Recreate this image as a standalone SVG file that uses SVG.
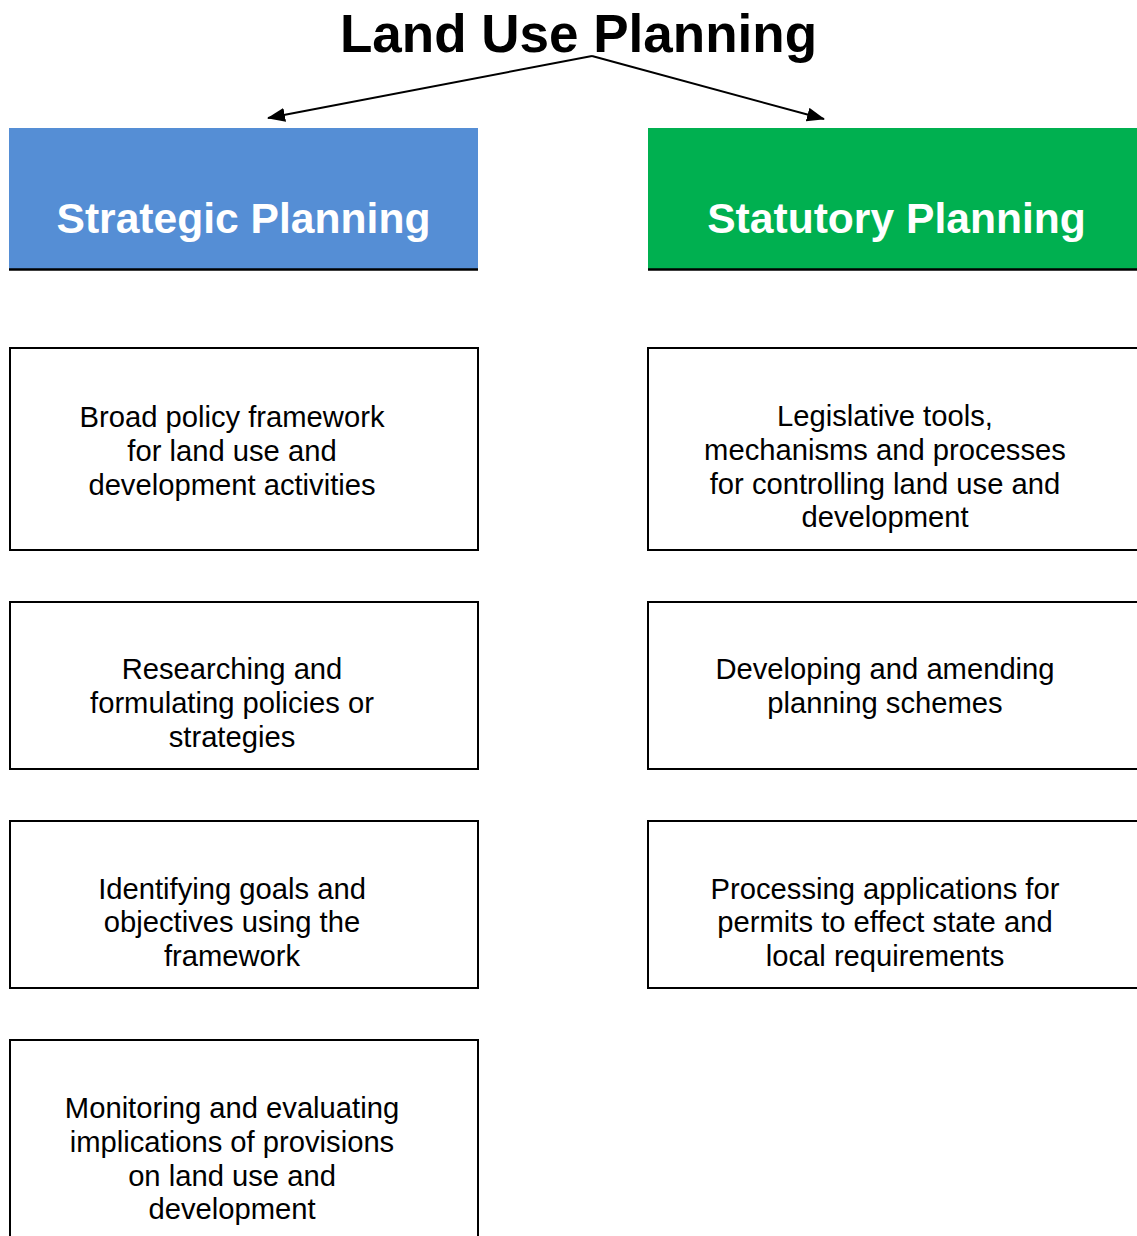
<svg xmlns="http://www.w3.org/2000/svg" width="1137" height="1236" viewBox="0 0 1137 1236">
<style>
.title{font-family:"Liberation Sans",Arial,sans-serif;font-weight:bold;font-size:53px;fill:#000;text-anchor:middle}
.head{font-family:"Liberation Sans",Arial,sans-serif;font-weight:bold;font-size:42.6px;fill:#fff;text-anchor:middle}
.body{font-family:"Liberation Sans",Arial,sans-serif;font-size:29.2px;fill:#000;text-anchor:middle}
.box{fill:#fff;stroke:#000;stroke-width:2}
.rule{stroke:#000;stroke-width:2.5}
.conn{stroke:#000;stroke-width:2;fill:none}
</style>
<defs>
<marker id="ah" viewBox="0 0 18 14" refX="17" refY="7" markerWidth="18" markerHeight="14" markerUnits="userSpaceOnUse" orient="auto">
<path d="M0,0 L18,7 L0,14 z" fill="#000"/>
</marker>
</defs>
<rect width="1137" height="1236" fill="#fff"/>
<g id="title"><text class="title" x="578.5" y="52">Land Use Planning</text></g>
<g id="connectors">
<line class="conn" x1="592" y1="56" x2="268" y2="118" marker-end="url(#ah)"/>
<line class="conn" x1="592" y1="56" x2="824" y2="119" marker-end="url(#ah)"/>
</g>
<g id="strategic">
<rect x="9" y="128" width="469" height="141" fill="#558ed5"/>
<line class="rule" x1="9" y1="269.5" x2="478" y2="269.5"/>
<text class="head" x="243.5" y="233">Strategic Planning</text>
</g>
<g id="statutory">
<rect x="648" y="128" width="497" height="141" fill="#00b050"/>
<line class="rule" x1="648" y1="269.5" x2="1145" y2="269.5"/>
<text class="head" x="896.5" y="233">Statutory Planning</text>
</g>
<g id="s1">
<rect class="box" x="10" y="348" width="468" height="202"/>
<text class="body" x="232"><tspan x="232" y="427">Broad policy framework</tspan><tspan x="232" y="461">for land use and</tspan><tspan x="232" y="495">development activities</tspan></text>
</g>
<g id="s2">
<rect class="box" x="10" y="602" width="468" height="167"/>
<text class="body" x="232"><tspan x="232" y="679">Researching and</tspan><tspan x="232" y="713">formulating policies or</tspan><tspan x="232" y="747">strategies</tspan></text>
</g>
<g id="s3">
<rect class="box" x="10" y="821" width="468" height="167"/>
<text class="body" x="232"><tspan x="232" y="899">Identifying goals and</tspan><tspan x="232" y="932">objectives using the</tspan><tspan x="232" y="966">framework</tspan></text>
</g>
<g id="s4">
<rect class="box" x="10" y="1040" width="468" height="220"/>
<text class="body" x="232"><tspan x="232" y="1118">Monitoring and evaluating</tspan><tspan x="232" y="1152">implications of provisions</tspan><tspan x="232" y="1186">on land use and</tspan><tspan x="232" y="1219">development</tspan></text>
</g>
<g id="t1">
<rect class="box" x="648" y="348" width="500" height="202"/>
<text class="body" x="885"><tspan x="885" y="426">Legislative tools,</tspan><tspan x="885" y="460">mechanisms and processes</tspan><tspan x="885" y="494">for controlling land use and</tspan><tspan x="885" y="527">development</tspan></text>
</g>
<g id="t2">
<rect class="box" x="648" y="602" width="500" height="167"/>
<text class="body" x="885"><tspan x="885" y="679">Developing and amending</tspan><tspan x="885" y="713">planning schemes</tspan></text>
</g>
<g id="t3">
<rect class="box" x="648" y="821" width="500" height="167"/>
<text class="body" x="885"><tspan x="885" y="899">Processing applications for</tspan><tspan x="885" y="932">permits to effect state and</tspan><tspan x="885" y="966">local requirements</tspan></text>
</g>
</svg>
